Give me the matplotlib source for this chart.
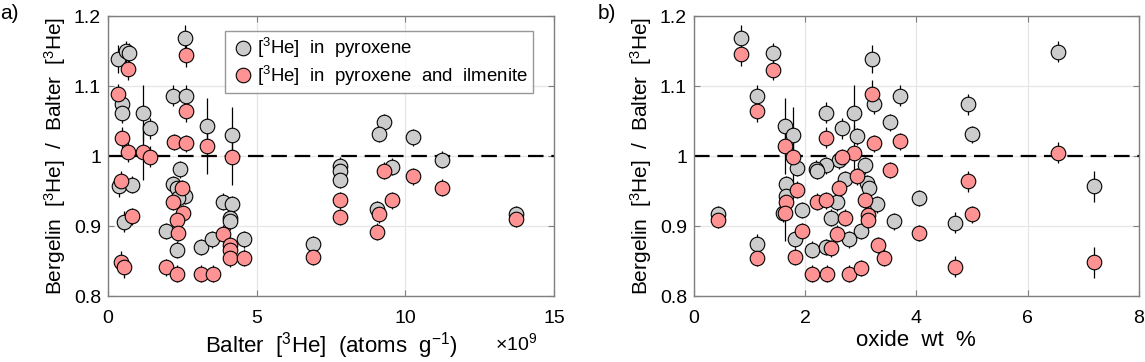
"""Bergelin / Balter 3He ratio vs Balter 3He and vs oxide content."""
import matplotlib
matplotlib.use("Agg")
import matplotlib.pyplot as plt

plt.rcParams["font.family"] = ["Liberation Sans", "DejaVu Sans"]
plt.rcParams["mathtext.fontset"] = "custom"
plt.rcParams["mathtext.rm"] = "Liberation Sans"
plt.rcParams["mathtext.it"] = "Liberation Sans:italic"

# panel a: Balter [3He] (x 1e9 atoms/g) vs ratio
a_px_x = [0.35, 0.62, 0.70, 2.59, 2.20, 2.63, 0.46, 0.46, 1.17, 1.41, 3.34, 4.17,
          9.27, 9.10, 10.26, 11.24, 7.79, 7.79, 7.79, 9.55,
          2.42, 0.38, 0.82, 2.20, 2.31, 2.59, 2.37, 1.95, 2.33, 0.54, 3.13, 3.49,
          3.86, 4.17, 4.11, 4.11, 4.58, 9.05, 6.91, 13.73]
a_px_y = [1.138, 1.150, 1.147, 1.169, 1.086, 1.086, 1.075, 1.062, 1.061, 1.040, 1.043, 1.030,
          1.048, 1.032, 1.027, 0.995, 0.986, 0.979, 0.966, 0.985,
          0.981, 0.957, 0.959, 0.960, 0.955, 0.943, 0.940, 0.893, 0.866, 0.906, 0.870, 0.881,
          0.935, 0.931, 0.912, 0.907, 0.881, 0.924, 0.874, 0.917]
a_px_err = [0.02, 0.015, 0.015, 0.018, 0.015, 0.015, 0.015, 0.015, 0.040, 0.015, 0.040, 0.040,
            0.012, 0.012, 0.012, 0.012, 0.012, 0.012, 0.012, 0.012,
            0.012, 0.015, 0.012, 0.012, 0.012, 0.012, 0.012, 0.012, 0.012, 0.015, 0.012, 0.012,
            0.012, 0.012, 0.012, 0.012, 0.012, 0.012, 0.012, 0.012]

a_il_x = [0.68, 2.63, 0.35, 2.63, 0.46, 0.68, 1.17, 1.41, 2.22, 2.63, 3.34, 4.17,
          0.43, 2.48, 2.20, 2.54, 2.31, 2.37, 0.43, 0.54, 0.82, 1.95, 2.33, 3.12, 3.52,
          3.86, 4.11, 4.11, 4.11, 4.58,
          9.27, 10.26, 11.24, 7.79, 7.79, 9.55, 9.10, 9.05, 6.91, 13.73]
a_il_y = [1.124, 1.145, 1.088, 1.064, 1.026, 1.006, 1.006, 0.999, 1.020, 1.018, 1.015, 0.998,
          0.964, 0.954, 0.935, 0.918, 0.909, 0.890, 0.849, 0.841, 0.914, 0.841, 0.832, 0.832, 0.832,
          0.889, 0.873, 0.866, 0.854, 0.855,
          0.979, 0.971, 0.955, 0.937, 0.913, 0.937, 0.917, 0.892, 0.856, 0.910]
a_il_err = [0.015, 0.018, 0.015, 0.015, 0.015, 0.015, 0.040, 0.015, 0.012, 0.012, 0.040, 0.040,
            0.015, 0.012, 0.012, 0.012, 0.012, 0.012, 0.015, 0.015, 0.012, 0.012, 0.012, 0.012, 0.012,
            0.012, 0.012, 0.012, 0.012, 0.012,
            0.012, 0.012, 0.012, 0.012, 0.012, 0.012, 0.012, 0.012, 0.012, 0.012]

# panel b: oxide wt % vs ratio
b_px_x = [0.85, 1.43, 1.14, 1.63, 1.79, 3.20, 3.23, 3.71, 2.37, 2.87, 2.67, 3.52, 2.94,
          2.60, 2.37, 2.20, 1.85, 3.07, 2.21, 2.71, 3.11, 3.14, 1.65, 1.65, 2.58, 3.30,
          1.95, 1.61, 2.47, 3.59, 0.44, 1.82, 3.01, 2.79, 1.14, 2.12, 2.37,
          6.55, 4.93, 5.01, 7.19, 4.04, 4.69]
b_px_y = [1.169, 1.147, 1.086, 1.043, 1.030, 1.138, 1.075, 1.086, 1.062, 1.062, 1.040, 1.048, 1.028,
          0.994, 0.987, 0.982, 0.983, 0.987, 0.979, 0.967, 0.961, 0.955, 0.960, 0.943, 0.934, 0.931,
          0.923, 0.918, 0.912, 0.907, 0.917, 0.881, 0.893, 0.881, 0.874, 0.866, 0.870,
          1.149, 1.074, 1.031, 0.957, 0.940, 0.905]
b_px_err = [0.018, 0.015, 0.015, 0.040, 0.040, 0.020, 0.015, 0.015, 0.015, 0.040, 0.015, 0.012, 0.012,
            0.012, 0.012, 0.012, 0.012, 0.012, 0.012, 0.012, 0.012, 0.012, 0.012, 0.012, 0.012, 0.012,
            0.012, 0.012, 0.012, 0.012, 0.012, 0.012, 0.012, 0.012, 0.015, 0.012, 0.012,
            0.015, 0.015, 0.012, 0.022, 0.012, 0.015]

b_il_x = [0.85, 1.43, 1.14, 1.63, 1.79, 3.20, 2.37, 3.23, 3.71, 2.87, 2.67, 3.52, 2.93,
          2.60, 1.85, 1.65, 2.21, 2.37, 3.07, 1.63, 2.71, 3.13, 3.13, 0.44, 1.95, 2.58,
          1.14, 2.46, 1.82, 3.31, 3.41, 2.12, 2.39, 2.78, 3.01,
          6.55, 4.93, 5.01, 4.04, 4.69, 7.19]
b_il_y = [1.146, 1.123, 1.064, 1.015, 0.998, 1.088, 1.026, 1.018, 1.021, 1.005, 0.998, 0.980, 0.971,
          0.955, 0.952, 0.935, 0.935, 0.937, 0.937, 0.919, 0.912, 0.916, 0.909, 0.909, 0.893, 0.889,
          0.855, 0.868, 0.856, 0.873, 0.855, 0.832, 0.832, 0.832, 0.840,
          1.005, 0.964, 0.917, 0.890, 0.842, 0.848]
b_il_err = [0.018, 0.015, 0.015, 0.040, 0.040, 0.020, 0.015, 0.012, 0.012, 0.040, 0.012, 0.012, 0.012,
            0.012, 0.012, 0.012, 0.012, 0.012, 0.012, 0.040, 0.012, 0.012, 0.012, 0.012, 0.012, 0.012,
            0.012, 0.012, 0.012, 0.012, 0.012, 0.012, 0.012, 0.012, 0.012,
            0.015, 0.015, 0.012, 0.012, 0.015, 0.022]

GRAY = "#cccccc"
PINK = "#ff9393"
SPINE = "#7f7f7f"


def draw(ax, gx, gy, ge, px, py, pe):
    ax.axhline(1.0, color="black", lw=1.6, dashes=(7, 3.5), zorder=2)
    for x, y, e, c, lab in [(gx, gy, ge, GRAY, r"[$^3$He]  in  pyroxene"),
                            (px, py, pe, PINK, r"[$^3$He]  in  pyroxene  and  ilmenite")]:
        ax.errorbar(x, y, yerr=e, fmt="none", ecolor="black", elinewidth=0.9, zorder=3)
        ax.plot(x, y, "o", ms=10.5, mfc=c, mec="black", mew=0.8, ls="none", zorder=4, label=lab)
    ax.set_ylim(0.8, 1.2)
    ax.set_yticks([0.8, 0.9, 1.0, 1.1, 1.2])
    ax.set_yticklabels(["0.8", "0.9", "1", "1.1", "1.2"])
    ax.grid(True, color="#e6e6e6", lw=0.9, zorder=0)
    ax.set_axisbelow(True)
    ax.tick_params(direction="in", top=True, right=True, length=4, labelsize=14,
                   color=SPINE)
    ax.tick_params(axis="x", pad=10)
    ax.tick_params(axis="y", pad=5)
    for s in ax.spines.values():
        s.set_color(SPINE)
        s.set_linewidth(1.0)
    ax.set_ylabel(r"Bergelin  [$^3$He]  /  Balter  [$^3$He]", fontsize=15, labelpad=4)


fig = plt.figure(figsize=(11.45, 3.62), dpi=100)
ax1 = fig.add_axes([0.0943, 0.1823, 0.3895, 0.7735])
ax2 = fig.add_axes([0.6061, 0.1823, 0.3884, 0.7735])

draw(ax1, a_px_x, a_px_y, a_px_err, a_il_x, a_il_y, a_il_err)
ax1.set_xlim(0, 15)
ax1.set_xticks([0, 5, 10, 15])
ax1.set_xlabel(r"Balter  [$^3$He]  (atoms  g$^{-1}$)", fontsize=16, labelpad=2)
fig.text(0.469, 0.052, r"$\times$10$^9$", fontsize=14, ha="right", va="center")
leg = ax1.legend(loc="upper left", bbox_to_anchor=(0.262, 0.945), fontsize=13.4,
                 frameon=True, fancybox=False, edgecolor=SPINE, handletextpad=0.1,
                 borderpad=0.25, labelspacing=0.2, borderaxespad=0, handlelength=1.4)
leg.get_frame().set_linewidth(1.0)

draw(ax2, b_px_x, b_px_y, b_px_err, b_il_x, b_il_y, b_il_err)
ax2.set_xlim(0, 8)
ax2.set_xticks([0, 2, 4, 6, 8])
ax2.set_xlabel("oxide  wt  %", fontsize=16, labelpad=2)

fig.text(0.0, 0.99, "a)", fontsize=15, ha="left", va="top")
fig.text(0.522, 0.99, "b)", fontsize=15, ha="left", va="top")

fig.savefig("out.png", dpi=100)
